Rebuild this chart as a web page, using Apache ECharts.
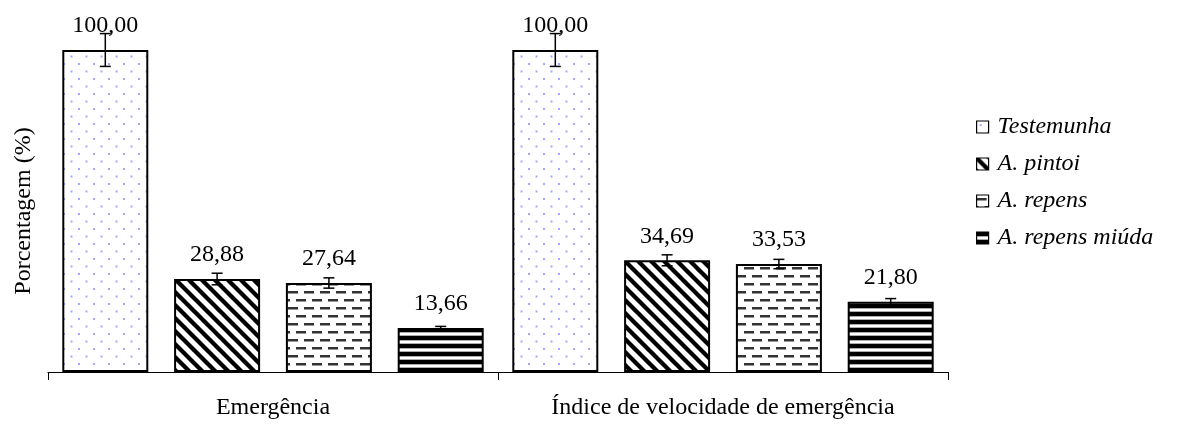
<!DOCTYPE html>
<html>
<head>
<meta charset="utf-8">
<script src="https://cdn.jsdelivr.net/npm/echarts@6/dist/echarts.min.js"></script>
<style>
  html, body { margin: 0; padding: 0; background: #fff; }
  #chart { width: 1177px; height: 426px; }
</style>
</head>
<body>
<div id="chart"></div>
<script>
// categories and series
const categories = ['Emergência', 'Índice de velocidade de emergência'];
const seriesNames = ['Testemunha', 'A. pintoi', 'A. repens', 'A. repens miúda'];
const testemunha = [100.0, 100.0];
const pintoi = [28.88, 34.69];
const repens = [27.64, 33.53];
const repensMiuda = [13.66, 21.80];
// error bar half-lengths (estimated)
const testemunhaErr = [5.1, 5.1];
const pintoiErr = [1.8, 1.7];
const repensErr = [1.6, 1.45];
const repensMiudaErr = [0.5, 1.0];

const FONT = "'Liberation Serif', 'Times New Roman', serif";
const BAR_WIDTH = 86;
const BAR_GAP = 0.3;

function makeTile(w, h, draw) {
  const c = document.createElement('canvas');
  c.width = w;
  c.height = h;
  const ctx = c.getContext('2d');
  ctx.fillStyle = '#fff';
  ctx.fillRect(0, 0, w, h);
  draw(ctx);
  return c;
}

// light blue dots
const dotsTile = makeTile(15, 15, (ctx) => {
  ctx.fillStyle = '#a6a6ff';
  ctx.fillRect(3, 3, 2, 2);
  ctx.fillRect(10.5, 10.5, 2, 2);
});
// wide downward diagonal
const diagTile = makeTile(13, 13, (ctx) => {
  ctx.strokeStyle = '#000';
  ctx.lineWidth = 4.3;
  [-13, 0, 13].forEach((k) => {
    ctx.beginPath();
    ctx.moveTo(k - 3, -3);
    ctx.lineTo(k + 16, 16);
    ctx.stroke();
  });
});
// dashed horizontal
const dashTile = makeTile(16, 16, (ctx) => {
  ctx.fillStyle = '#333';
  ctx.fillRect(0, 3, 10, 2.5);
  ctx.fillRect(8, 11, 8, 2.5);
  ctx.fillRect(0, 11, 2, 2.5);
});
// horizontal stripes
const stripeTile = makeTile(8, 8, (ctx) => {
  ctx.fillStyle = '#000';
  ctx.fillRect(0, 0, 8, 4);
  ctx.fillStyle = '#aaa';
  ctx.fillRect(0, 4, 8, 1);
  ctx.fillRect(0, 7, 8, 1);
});

const patterns = [dotsTile, diagTile, dashTile, stripeTile];
const values = [testemunha, pintoi, repens, repensMiuda];
const errors = [testemunhaErr, pintoiErr, repensErr, repensMiudaErr];

const fmt = (v) => v.toFixed(2).replace('.', ',');

const barSeries = seriesNames.map((name, i) => ({
  name: name,
  type: 'bar',
  barWidth: BAR_WIDTH,
  barGap: (BAR_GAP * 100) + '%',
  data: values[i],
  itemStyle: {
    color: { image: patterns[i], repeat: 'repeat' },
    borderColor: '#000',
    borderWidth: 2,
  },
  label: {
    show: true,
    position: 'top',
    distance: 12,
    formatter: (p) => fmt(p.value),
    fontFamily: FONT,
    fontSize: 24,
    color: '#000',
  },
  emphasis: { disabled: true },
}));

const errData = [];
values.forEach((arr, s) => {
  arr.forEach((v, c) => {
    errData.push([c, s, v, errors[s][c]]);
  });
});

const errSeries = {
  type: 'custom',
  name: 'err',
  z: 10,
  data: errData,
  encode: { x: 0, y: 2 },
  renderItem: (params, api) => {
    const c = api.value(0);
    const s = api.value(1);
    const v = api.value(2);
    const e = api.value(3);
    const step = BAR_WIDTH * (1 + BAR_GAP);
    const x = api.coord([c, v])[0] + (s - 1.5) * step;
    const yTop = api.coord([c, v + e])[1];
    const yBot = api.coord([c, v - e])[1];
    const cap = 5.5;
    const style = { stroke: '#000', lineWidth: 1.5 };
    return {
      type: 'group',
      children: [
        { type: 'line', shape: { x1: x, y1: yTop, x2: x, y2: yBot }, style: style },
        { type: 'line', shape: { x1: x - cap, y1: yTop, x2: x + cap, y2: yTop }, style: style },
        { type: 'line', shape: { x1: x - cap, y1: yBot, x2: x + cap, y2: yBot }, style: style },
      ],
    };
  },
};

const option = {
  backgroundColor: '#fff',
  animation: false,
  grid: {
    left: 48,
    right: 229,
    top: 50,
    bottom: 54,
  },
  legend: {
    data: seriesNames,
    orient: 'vertical',
    left: 971,
    top: 110,
    itemWidth: 12,
    itemHeight: 12,
    itemGap: 13,
    icon: 'rect',
    itemStyle: { borderColor: '#000', borderWidth: 1.2 },
    textStyle: {
      fontFamily: FONT,
      fontSize: 24,
      fontStyle: 'italic',
      color: '#000',
      padding: [0, 0, 0, 4],
    },
  },
  xAxis: {
    type: 'category',
    data: categories,
    axisLine: { lineStyle: { color: '#000', width: 1 } },
    axisTick: { show: true, length: 8, interval: 0, lineStyle: { color: '#000' } },
    axisLabel: {
      margin: 24,
      fontFamily: FONT,
      fontSize: 24,
      color: '#000',
    },
  },
  yAxis: {
    type: 'value',
    min: 0,
    max: 100,
    name: 'Porcentagem (%)',
    nameLocation: 'middle',
    nameGap: 12,
    nameTextStyle: { fontFamily: FONT, fontSize: 24, color: '#000' },
    axisLine: { show: false },
    axisTick: { show: false },
    axisLabel: { show: false },
    splitLine: { show: false },
  },
  series: barSeries.concat([errSeries]),
};

const chart = echarts.init(document.getElementById('chart'));
chart.setOption(option);
</script>
</body>
</html>
